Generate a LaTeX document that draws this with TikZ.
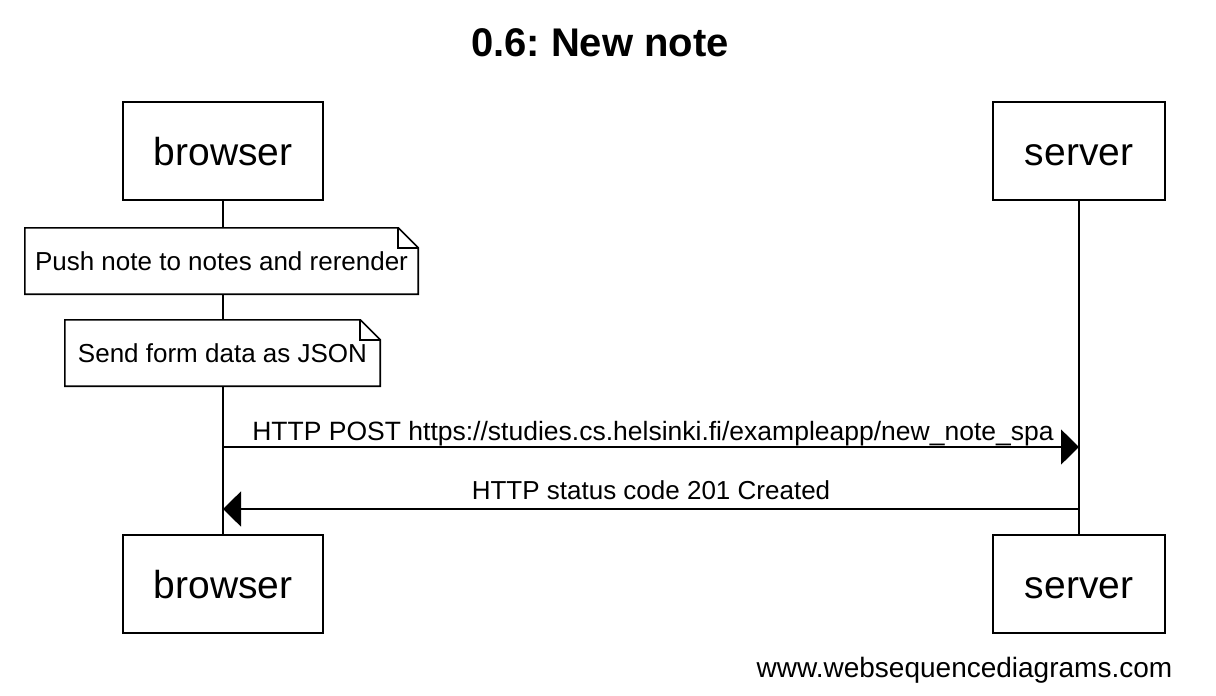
\documentclass[tikz,border=0pt]{standalone}
\usepackage{fontspec}
\setmainfont{Liberation Sans}
\usetikzlibrary{arrows.meta}
\usetikzlibrary{positioning}
\frenchspacing

\tikzset{
  actor/.style={draw, line width=1.6pt, minimum height=98pt, text height=32pt, text depth=4pt,
    font=\fontsize{39}{47}\selectfont},
  notetext/.style={fill=white, minimum height=66pt, inner sep=0pt, font=\fontsize{26}{31}\selectfont},
  msg/.style={line width=1.6pt, -{Triangle[length=18pt,width=35pt]}},
  msgtext/.style={font=\fontsize{26}{31}\selectfont, anchor=base, inner sep=0pt},
  lifeline/.style={line width=1.6pt}
}

\newcommand{\notefold}[1]{%
  \draw[lifeline] (#1.south west) -- (#1.north west) -- ([xshift=-20pt]#1.north east)
    -- ([yshift=-20pt]#1.north east) -- (#1.south east) -- cycle;
  \draw[lifeline] ([xshift=-20pt]#1.north east) |- ([yshift=-20pt]#1.north east);}

\begin{document}
\begin{tikzpicture}[x=1pt, y=-1pt]
  \useasboundingbox (0,0) rectangle (1216,696);
  \node[font=\bfseries\fontsize{40}{48}\selectfont, anchor=base] (title) at (600,56) {0.6: New note};

  % participants
  \node[actor, minimum width=200pt] (browser) at (223,151) {browser};
  \node[actor, minimum width=172pt] (server) at (1079,151) {server};
  \node[actor, minimum width=200pt] (browserend) at (223,584) {browser};
  \node[actor, minimum width=172pt] (serverend) at (1079,584) {server};
  \draw[lifeline] (browser.south) -- (browserend.north);
  \draw[lifeline] (server.south) -- (serverend.north);

  % notes
  \node[notetext, minimum width=393pt] (push) at (221.5,261) {Push note to notes and rerender};
  \notefold{push}
  \node[notetext, minimum width=315pt] (send) at (222.5,353) {Send form data as JSON};
  \notefold{send}

  % messages
  \coordinate (b1) at (223,447);
  \coordinate (s1) at (1079,447);
  \coordinate (b2) at (223,509);
  \coordinate (s2) at (1079,509);
  \draw[msg] (b1) -- node[msgtext, midway, yshift=7pt, xshift=2pt, font=\fontsize{26.5}{31}\selectfont] (post) {HTTP POST https://studies.cs.helsinki.fi/exampleapp/new\_note\_spa} (s1);
  \draw[msg] (s2) -- node[msgtext, midway, yshift=10pt] (created) {HTTP status code 201 Created} (b2);

  \node[anchor=base, font=\fontsize{28}{34}\selectfont] (credit) at (964.5,677) {www.websequencediagrams.com};
\end{tikzpicture}
\end{document}
